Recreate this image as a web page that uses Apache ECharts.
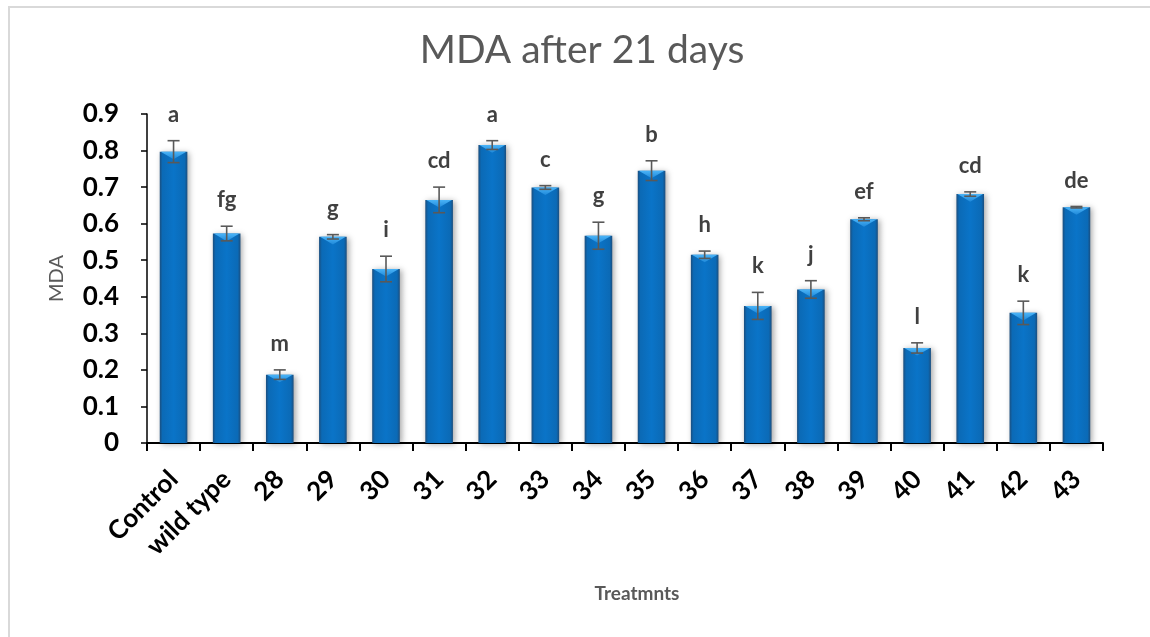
<!DOCTYPE html>
<html>
<head>
<meta charset="utf-8">
<script src="https://cdn.jsdelivr.net/npm/echarts@6/dist/echarts.min.js"></script>
<style>
html,body{margin:0;padding:0;background:#fff;}
#chart{width:1150px;height:637px;}
</style>
</head>
<body>
<div id="chart"></div>
<script>
const categories = ['Control','wild type','28','29','30','31','32','33','34','35','36','37','38','39','40','41','42','43'];
const mdaValues = [0.797,0.573,0.187,0.564,0.476,0.665,0.815,0.699,0.567,0.745,0.515,0.375,0.420,0.612,0.260,0.681,0.356,0.645];
const errValues = [0.030,0.020,0.013,0.006,0.035,0.035,0.012,0.005,0.037,0.027,0.010,0.037,0.024,0.004,0.014,0.006,0.032,0.002];
const letters = ['a','fg','m','g','i','cd','a','c','g','b','h','k','j','ef','l','cd','k','de'];
const yTicks = [0,0.1,0.2,0.3,0.4,0.5,0.6,0.7,0.8,0.9];

const chart = echarts.init(document.getElementById('chart'));
const FONT = 'Lato, "Open Sans", sans-serif';

const barData = mdaValues.map((v,i)=>[i,v]);
const errData = mdaValues.map((v,i)=>[i,v,errValues[i]]);

chart.setOption({
  animation:false,
  backgroundColor:'#ffffff',
  title:{
    text:'MDA after 21 days',
    left:582, textAlign:'center', top:31,
    textStyle:{fontFamily:FONT,fontSize:39,fontWeight:'normal',color:'#595959'},
    padding:0, itemGap:0,
  },
  graphic:[{
    type:'polyline', silent:true,
    shape:{points:[[9,640],[9,7],[1160,7]]},
    style:{stroke:'#d9d9d9',lineWidth:2,fill:null}
  }],
  grid:{left:147,right:47,top:114,bottom:194},
  xAxis:{
    type:'category', data:categories,
    boundaryGap:true,
    axisLine:{lineStyle:{color:'#000',width:2}},
    axisTick:{show:true,length:8,alignWithLabel:false,lineStyle:{color:'#000',width:2}},
    axisLabel:{rotate:45,margin:32,fontFamily:FONT,fontSize:26,fontWeight:'bold',color:'#000',interval:0},
    name:'Treatmnts', nameLocation:'middle', nameGap:141,
    nameTextStyle:{fontFamily:FONT,fontSize:19,fontWeight:'bold',color:'#595959',padding:[0,0,0,24]}
  },
  yAxis:{
    type:'value', min:0, max:0.9, interval:0.1,
    axisLine:{show:true,lineStyle:{color:'#000',width:1.5}},
    axisTick:{show:true,length:6,inside:false,lineStyle:{color:'#000',width:1.5}},
    splitLine:{show:false},
    axisLabel:{margin:28,fontFamily:FONT,fontSize:26,fontWeight:'bold',color:'#000',
      formatter:function(v){const t=yTicks.find(x=>Math.abs(x-v)<1e-9);return t===0?'0':String(t);}},
    name:'MDA', nameLocation:'middle', nameGap:80, nameRotate:90,
    nameTextStyle:{fontFamily:FONT,fontSize:20,fontWeight:'normal',color:'#595959'}
  },
  series:[
    {
      type:'custom', name:'MDA', data:barData, z:2,
      renderItem:function(params,api){
        const i=api.value(0), v=api.value(1);
        const top=api.coord([i,v]), base=api.coord([i,0]);
        const band=api.size([1,0])[0];
        const w=band*0.52;
        const x0=top[0]-w/2, y0=top[1], h=base[1]-top[1];
        const tri=Math.min(w*0.5,h*0.5);
        return {type:'group',children:[
          {type:'rect',shape:{x:x0,y:y0,width:w,height:h},
            style:{
              fill:new echarts.graphic.LinearGradient(0,0,1,0,[
                {offset:0,color:'#1b4e7e'},{offset:0.1,color:'#0b6ab6'},
                {offset:0.5,color:'#0a74c8'},{offset:0.9,color:'#0b6ab6'},{offset:1,color:'#1b4e7e'}]),
              shadowBlur:6,shadowColor:'rgba(0,0,0,0.35)',shadowOffsetX:2,shadowOffsetY:1
            }},
          {type:'polygon',shape:{points:[[x0+1,y0],[x0+w-1,y0],[top[0],y0+tri*0.55]]},
            style:{fill:new echarts.graphic.LinearGradient(0,0,0,1,[
              {offset:0,color:'#4ab4f8'},{offset:1,color:'#1f88d8'}])}}
        ]};
      }
    },
    {
      type:'custom', name:'err', data:errData, z:3,
      renderItem:function(params,api){
        const i=api.value(0), v=api.value(1), e=api.value(2);
        const lbl=letters[i];
        const hi=api.coord([i,v+e]), lo=api.coord([i,v-e]);
        const cx=hi[0], cap=6;
        return {type:'group',children:[
          {type:'line',shape:{x1:cx,y1:hi[1],x2:cx,y2:lo[1]},style:{stroke:'#595959',lineWidth:1.6}},
          {type:'line',shape:{x1:cx-cap,y1:hi[1],x2:cx+cap,y2:hi[1]},style:{stroke:'#595959',lineWidth:1.6}},
          {type:'line',shape:{x1:cx-cap,y1:lo[1],x2:cx+cap,y2:lo[1]},style:{stroke:'#595959',lineWidth:1.6}},
          {type:'text',style:{text:lbl,x:cx,y:hi[1]-26,align:'center',verticalAlign:'middle',
            fontFamily:FONT,fontSize:22,fontWeight:'bold',fill:'#404040'}}
        ]};
      }
    }
  ]
});
</script>
</body>
</html>
